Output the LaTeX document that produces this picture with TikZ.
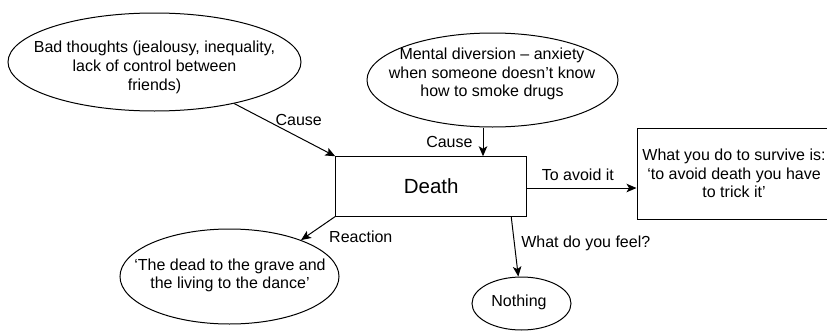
\documentclass[tikz,border=0pt]{standalone}
\usepackage{fontspec}
\setmainfont{Liberation Sans}
\usetikzlibrary{shapes.geometric,arrows.meta}
\begin{document}
\begin{tikzpicture}[x=1pt,y=-1pt,
  every node/.style={font=\fontsize{16}{18.7}\selectfont},
  bubble/.style={draw, ellipse, line width=1pt, inner sep=0pt},
  txt/.style={align=center, inner sep=0pt},
  box/.style={draw, rectangle, line width=1pt, inner sep=0pt, align=center},
  link/.style={draw, line width=1pt, -{Stealth[length=10pt,width=8.5pt,inset=2.5pt]}},
  tag/.style={inner sep=2pt}]
\useasboundingbox (0,0) rectangle (827,332);
\begin{scope}
\clip (0,0) rectangle (827,332);

% causes
\node[bubble, minimum width=293pt, minimum height=98pt] (bad) at (154.5,62) {};
\node[txt] (badtxt) at (154.5,67.5) {Bad thoughts (jealousy, inequality,\\lack of control between\\friends)};

\node[bubble, minimum width=251pt, minimum height=94pt] (mental) at (492.5,80) {};
\node[txt] (mentaltxt) at (492,74) {Mental diversion -- anxiety\\when someone doesn’t know\\how to smoke drugs};

% central box
\node[box, minimum width=191pt, minimum height=59.3pt, font=\fontsize{20.5}{24}\selectfont] (death) at (431.2,186.4) {Death};

% outcomes
\node[box, minimum width=194pt, minimum height=91pt] (survive) at (734,173.5) {What you do to survive is:\\‘to avoid death you have\\to trick it’};

\node[bubble, minimum width=219pt, minimum height=95pt] (dead) at (229.5,276.5) {};
\node[txt] (deadtxt) at (230,275.5) {‘The dead to the grave and\\the living to the dance’};

\node[bubble, minimum width=99pt, minimum height=53pt] (nothing) at (521.5,303.5) {};
\node[txt] (nothingtxt) at (519,302.5) {Nothing};

% anchor points on the central box
\coordinate (dtop) at ([xshift=51.8pt]death.north);
\coordinate (dbot) at ([xshift=80pt]death.south);
\coordinate (dright) at ([yshift=-1.6pt]death.east);

% connectors
\draw[link] (bad) -- (death.north west)
  node[tag, midway, xshift=14pt, yshift=10pt] (c1) {Cause};
\draw[link] (mental.south -| dtop) -- (dtop)
  node[tag, midway, anchor=east, xshift=-8pt] (c2) {Cause};
\draw[link] (dright) -- (dright -| survive.west)
  node[tag, midway, xshift=-4pt, yshift=13pt] (c3) {To avoid it};
\draw[link] (dbot) -- (nothing)
  node[tag, midway, anchor=west, xshift=4pt, yshift=3.5pt] (c4) {What do you feel?};
\draw[link] (death.south west) -- (dead.27)
  node[tag, midway, anchor=west, xshift=8.6pt, yshift=-8.5pt] (c5) {Reaction};
\end{scope}
\end{tikzpicture}
\end{document}
